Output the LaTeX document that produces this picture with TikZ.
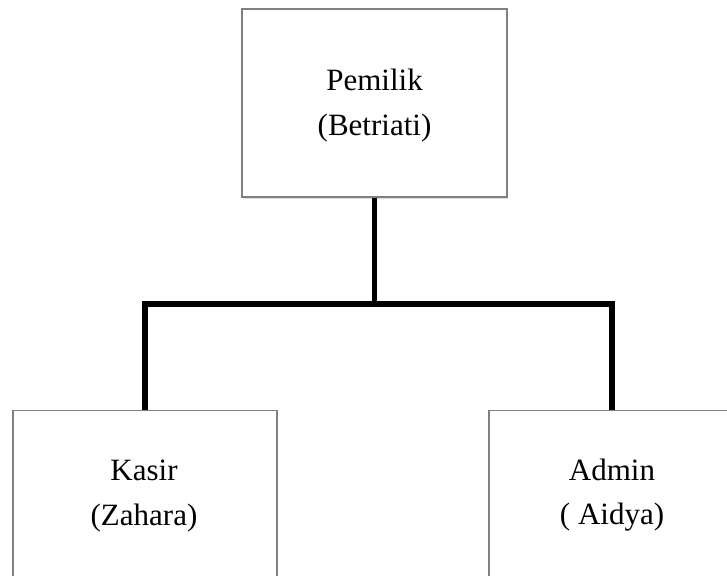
\documentclass[tikz,border=0pt]{standalone}
\usepackage{fontspec}
\setmainfont{Liberation Serif}
\usetikzlibrary{shadows}
\begin{document}
\begin{tikzpicture}[x=1pt,y=-1pt,
  box/.style={draw=black!50, line width=1.2pt, fill=white, inner sep=0pt,
    drop shadow={opacity=0.25, shadow xshift=0.8pt, shadow yshift=-2pt}},
  txt/.style={inner sep=0pt, anchor=base, font=\fontsize{31}{45}\selectfont},
  conn/.style={line width=5.4pt, draw=black, line join=miter}]
\useasboundingbox (0,0) rectangle (727,575);
\clip (0,0) rectangle (727,575);
\fill[white] (0,0) rectangle (727,575);
% boxes
\node[box, minimum width=265pt, minimum height=188pt] (p) at (374.5,103) {};
\node[box, minimum width=264pt, minimum height=188pt, anchor=north] (k) at (145,410) {};
\node[box, minimum width=246pt, minimum height=188pt, anchor=north] (a) at (612,410) {};
% texts
\node[txt] (p1) at (374.5,91) {Pemilik};
\node[txt] (p2) at (374.5,135) {(Betriati)};
\node[txt] (k1) at (144,480) {Kasir};
\node[txt] (k2) at (144,525) {(Zahara)};
\node[txt] (a1) at (612,480) {Admin};
\node[txt] (a2) at (612,524) {( Aidya)};
% connectors
\coordinate (j) at (374.5,304);
\draw[conn] (p.south) -- (j);
\draw[conn] (k.north) -- (k.north |- j) -- (a.north |- j) -- (a.north);
\end{tikzpicture}
\end{document}
